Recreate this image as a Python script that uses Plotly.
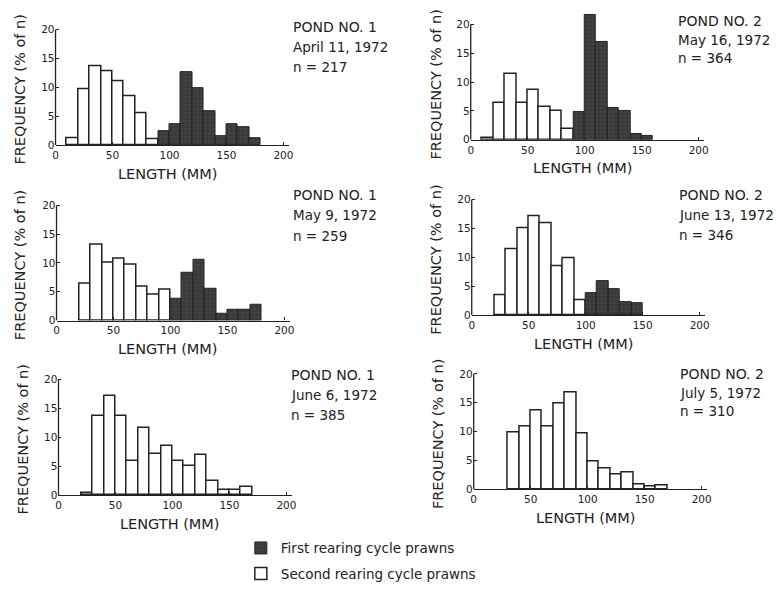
import plotly.graph_objects as go

W, H = 776, 590

# ---- data ----
# lower edge of each 10-mm length class (mm)
bin_lower = [10, 20, 30, 40, 50, 60, 70, 80, 90, 100, 110, 120, 130, 140, 150, 160, 170]
N = None

# frequencies (% of n); "first" = first rearing cycle (dark), "second" = second rearing cycle (white)
p1_second = [1.2, 9.6, 13.6, 12.8, 11.0, 8.5, 5.6, 1.0, N, N, N, N, N, N, N, N, N]
p1_first  = [N, N, N, N, N, N, N, N, 2.4, 3.6, 12.7, 9.9, 5.9, 1.6, 3.6, 3.1, 1.2]

p2_second = [0.3, 6.3, 11.4, 6.3, 8.7, 5.7, 5.0, 1.8, N, N, N, N, N, N, N, N, N]
p2_first  = [N, N, N, N, N, N, N, N, 4.9, 21.7, 17.0, 5.5, 5.0, 1.0, 0.6, N, N]

p3_second = [N, 6.3, 13.1, 10.1, 10.8, 9.7, 5.9, 4.5, 5.3, N, N, N, N, N, N, N, N]
p3_first  = [N, N, N, N, N, N, N, N, N, 3.7, 8.3, 10.6, 5.5, 1.1, 1.8, 1.8, 2.8]

p4_second = [N, 3.5, 11.4, 15.1, 17.1, 15.9, 8.4, 9.8, 2.6, N, N, N, N, N, N, N, N]
p4_first  = [N, N, N, N, N, N, N, N, N, 3.7, 5.9, 4.4, 2.2, 2.0, N, N, N]

p5_second = [N, 0.3, 13.6, 17.2, 13.6, 5.9, 11.5, 7.1, 8.5, 5.9, 5.0, 6.9, 2.4, 0.9, 0.9, 1.4, N]
p5_first  = [N] * 17

p6_second = [N, N, 9.9, 10.9, 13.6, 10.9, 14.8, 16.7, 9.6, 4.8, 3.6, 2.5, 3.0, 0.9, 0.5, 0.6, N]
p6_first  = [N] * 17

titles = [
    ("POND NO. 1", "April 11, 1972", "n = 217"),
    ("POND NO. 2", "May 16, 1972", "n = 364"),
    ("POND NO. 1", "May 9, 1972", "n = 259"),
    ("POND NO. 2", "June 13, 1972", "n = 346"),
    ("POND NO. 1", "June 6, 1972", "n = 385"),
    ("POND NO. 2", "July 5, 1972", "n = 310"),
]
x_ticks = [0, 50, 100, 150, 200]
y_ticks = [0, 5, 10, 15, 20]
legend_first = "First rearing cycle prawns"
legend_second = "Second rearing cycle prawns"

panels_first = [p1_first, p2_first, p3_first, p4_first, p5_first, p6_first]
panels_second = [p1_second, p2_second, p3_second, p4_second, p5_second, p6_second]

# ---- layout (pixel geometry of each panel) ----
# (x pixel of 0 mm, y pixel of 0 %)
geom = [(53, 147), (472, 141.7), (54, 325), (473, 319.3), (56, 501.7), (475, 496)]
text_pos = [(291, 27, 48, 68), (679, 21, 41, 59), (291, 198, 218, 239),
            (680, 198, 218, 238), (289, 380, 400, 421), (681, 379, 398, 417)]
PX_PER_MM = 1.15
PX_PER_PCT = 5.85
XMAX, YMAX = 205, 22.5

INK = "#222222"
DARK = "#3a3a3a"
FONT = "DejaVu Sans"

fig = go.Figure()
annotations = []
shapes = []
layout_axes = {}


def fx(px):
    return px / W


def fy(py):
    return 1 - py / H


for i in range(6):
    k = "" if i == 0 else str(i + 1)
    x0, y0 = geom[i]
    xdom = [fx(x0), fx(x0 + XMAX * PX_PER_MM)]
    ydom = [fy(y0), fy(y0 - YMAX * PX_PER_PCT)]

    fig.add_trace(go.Bar(
        x=bin_lower, y=panels_second[i], width=10, offset=0,
        marker=dict(color="white", line=dict(color=INK, width=1.5)),
        name=legend_second, legendgroup="second", showlegend=(i == 0),
        legendrank=2, xaxis="x" + k, yaxis="y" + k,
    ))
    fig.add_trace(go.Bar(
        x=bin_lower, y=panels_first[i], width=10, offset=0,
        marker=dict(color=DARK, line=dict(color=INK, width=1),
                    pattern=dict(shape=".", fgcolor="#6a6a6a", bgcolor=DARK,
                                 size=4, solidity=0.15)),
        name=legend_first, legendgroup="first", showlegend=(i == 0),
        legendrank=1, xaxis="x" + k, yaxis="y" + k,
    ))

    layout_axes["xaxis" + k] = dict(
        domain=xdom, range=[0, XMAX], anchor="y" + k,
        showline=True, linecolor=INK, linewidth=1.3,
        ticks="inside", ticklen=3, tickcolor=INK, tickvals=x_ticks,
        showgrid=False, zeroline=False,
        tickfont=dict(family=FONT, size=10.5, color=INK),
    )
    layout_axes["yaxis" + k] = dict(
        domain=ydom, range=[0, YMAX], anchor="x" + k,
        showline=False, ticks="inside", ticklen=3, tickcolor=INK,
        tickvals=y_ticks, showgrid=False, zeroline=False,
        tickfont=dict(family=FONT, size=10.5, color=INK),
    )
    shapes.append(dict(type="line", xref="x" + k + " domain", yref="y" + k,
                       x0=0, x1=0, y0=0, y1=20,
                       line=dict(color=INK, width=1.3)))

    # axis titles
    annotations.append(dict(
        text="LENGTH (MM)", xref="paper", yref="paper",
        x=fx(x0 + 113), y=fy(y0 + 29), xanchor="center", yanchor="middle",
        showarrow=False, font=dict(family=FONT, size=14.5, color=INK)))
    annotations.append(dict(
        text="FREQUENCY (% of n)", xref="paper", yref="paper",
        x=fx(x0 - 36), y=fy(y0 - 56), xanchor="center", yanchor="middle",
        textangle=-90, showarrow=False,
        font=dict(family=FONT, size=14.5, color=INK)))

    tx, ty1, ty2, ty3 = text_pos[i]
    for line, ty, sz in zip(titles[i], (ty1, ty2, ty3), (14, 13.5, 13.5)):
        annotations.append(dict(
            text=line, xref="paper", yref="paper", x=fx(tx), y=fy(ty),
            xanchor="left", yanchor="middle", showarrow=False,
            font=dict(family=FONT, size=sz, color=INK)))

fig.update_layout(
    width=W, height=H,
    margin=dict(l=0, r=0, t=0, b=0),
    paper_bgcolor="white", plot_bgcolor="white",
    barmode="overlay", bargap=0,
    showlegend=True,
    legend=dict(x=fx(240), y=fy(540), xanchor="left", yanchor="top",
                orientation="v", tracegroupgap=5, bgcolor="rgba(0,0,0,0)",
                font=dict(family=FONT, size=13.5, color=INK)),
    annotations=annotations,
    shapes=shapes,
    **layout_axes,
)

fig.write_html(
    "out.html",
    config={"displayModeBar": False},
    post_script="document.body.style.margin='0';document.body.style.padding='0';",
)
